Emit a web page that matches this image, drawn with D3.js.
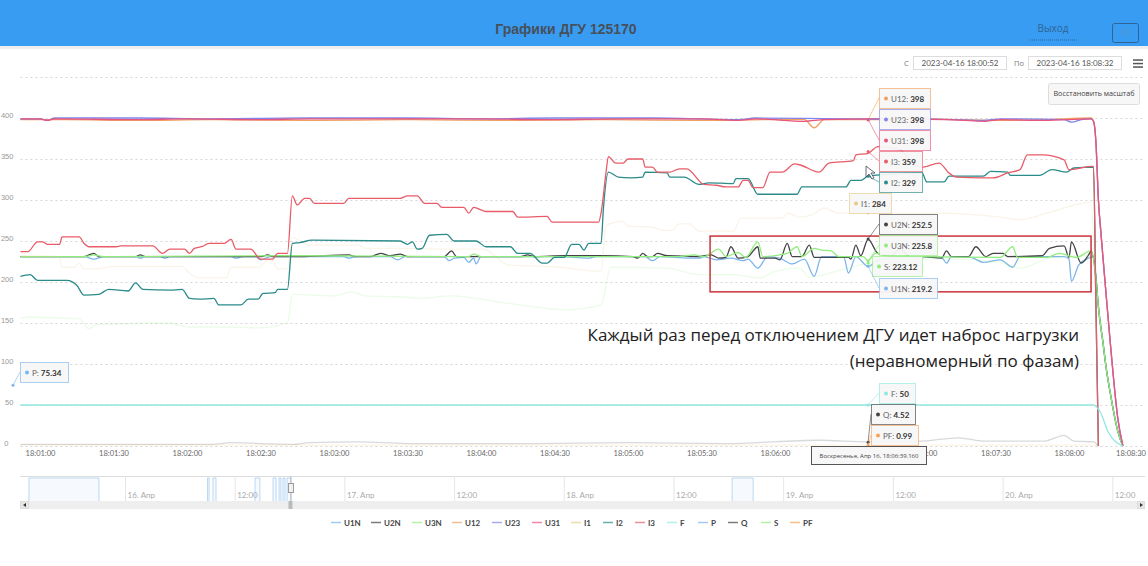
<!DOCTYPE html>
<html>
  <head>
    <meta charset="utf-8">
    <title>Графики ДГУ 125170</title>
    <script src="https://cdn.jsdelivr.net/npm/d3@7"></script>
    <style>
      body { margin: 0; background: #fff; overflow: hidden; }
      svg { display: block; font-family: "Open Sans", sans-serif; }
      .line { fill: none; stroke-width: 1.3; stroke-linejoin: round; }
      .grid .tick line { stroke: #d6d6d6; stroke-dasharray: 2 3; }
      .grid .domain, .xAxis .domain, .xAxis .tick line { display: none; }
      .grid text { fill: #999; font-size: 7.5px; }
      .xAxis text { fill: #666; font-size: 7.5px; font-family: Lato, sans-serif; }
      .tipBox { fill: #f7f7f7; fill-opacity: .95; stroke-width: 1; stroke-opacity: .65; }
      .tipText { font-size: 8px; fill: #666; font-family: Lato, "Open Sans", sans-serif; }
      .tipText tspan { fill: #333; font-weight: 700; }
      .navLabel { font-size: 8px; fill: #aaa; font-family: Lato, "Open Sans", sans-serif; }
      .legendText { font-size: 8px; fill: #444; font-weight: 700; font-family: Lato, sans-serif; }
    </style>
  </head>

  <body>
    <svg id="chart" width="1148" height="566"></svg>

    <script>
      // seconds after 18:00:00 and value
      const xTicks = [60, 90, 120, 150, 180, 210, 240, 270, 300, 330, 360, 390, 420, 450, 480, 510];
      const yTicks = [0, 50, 100, 150, 200, 250, 300, 350, 400, 450];

      const lineFall = [[490, 396], [491, 370], [492, 300], [493, 261], [495, 190], [497, 121], [500, 32], [502, 0]];
      const phaseFall = [[491, 205], [492, 170], [494, 123], [495, 99], [497, 62], [500, 17], [502, 0]];

      const u1n = [[52,231],[78,231],[82,228],[86,231],[99,231],[101,229],[103,231],[109,231],[111,229],[113,231],[138,231],[140,229],[143,231],[148,231],[150,227],[154,231],[184,231],[186,229],[189,231],[203,231],[206,227],[209,231],[225,231],[227,226],[229,229],[233,230],[235,224],[237,229],[238,222],[240,231],[272,231],[284,229],[287,231],[307,231],[310,226],[313,231],[325,229],[329,229],[331,231],[336,227],[342,229],[347,226],[349,228],[353,217],[357,231],[362,229],[367,222],[372,228],[376,207],[379,231],[388,231],[390,211],[393,231],[398,219],[403,228],[420,231],[428,230],[430,223],[432,231],[440,230],[445,224],[452,227],[457,218],[460,231],[478,231],[480,228],[481,201],[484,221],[488,229],[490,231],...phaseFall];
      const u2n = [[52,231],[78,231],[82,235],[84,231],[99,231],[101,233],[103,231],[150,231],[153,233],[155,231],[166,231],[186,233],[189,231],[195,231],[199,235],[203,232],[207,234],[210,231],[225,231],[228,238],[230,231],[256,231],[259,233],[262,231],[274,232],[289,232],[302,231],[304,229],[306,235],[308,231],[310,231],[312,235],[316,232],[329,231],[334,233],[337,229],[340,230],[342,243],[345,229],[349,231],[353,243],[354,229],[360,229],[362,227],[365,247],[367,231],[371,231],[374,245],[376,230],[390,230],[391,228],[393,245],[395,232],[398,252],[402,235],[407,232],[411,240],[415,231],[420,231],[428,229],[430,238],[432,231],[439,231],[442,243],[446,231],[449,235],[453,235],[455,231],[469,232],[472,241],[478,244],[480,230],[481,249],[485,223],[488,233],[489,238],...phaseFall];
      const u3n = [[52,231],[78,231],[82,233],[86,231],[162,232],[235,231],[237,234],[240,231],[321,231],[327,233],[331,231],[337,240],[340,231],[345,236],[348,230],[353,249],[355,231],[365,235],[369,243],[371,231],[376,241],[379,239],[383,238],[386,231],[396,231],[398,226],[401,235],[407,232],[420,231],[452,230],[457,243],[459,230],[471,230],[476,235],[483,230],[489,238],...phaseFall];
      const u12 = [[52,398],[70,398],[100,397],[130,398],[170,397],[210,398],[250,397],[290,398],[330,397],[360,398],[372,398],[376,388],[380,398],[395,398],[420,399],[450,397],[470,398],[489,400],...lineFall];
      const u23 = [[52,399],[60,399],[63,397],[66,400],[100,400],[130,399],[170,400],[210,400],[240,399],[270,400],[310,400],[345,398],[352,400],[390,399],[420,399],[445,397],[452,399],[478,398],[481,395],[485,398],[489,399],...lineFall];
      const u31 = [[52,399],[60,399],[63,397],[66,399],[100,398],[120,399],[150,398],[170,399],[210,399],[240,399],[265,398],[300,399],[330,399],[345,397],[352,399],[372,396],[380,398],[400,399],[430,398],[446,396],[452,398],[470,397],[489,399],...lineFall];
      const i1 = [[52,232],[68,231],[69,218],[74,218],[76,223],[78,216],[83,216],[90,219],[118,219],[121,211],[125,205],[136,205],[138,218],[149,218],[153,226],[155,226],[157,216],[161,216],[163,254],[170,245],[190,245],[193,241],[207,241],[227,240],[241,240],[251,221],[272,218],[289,213],[291,269],[298,274],[300,268],[310,267],[314,263],[318,263],[321,271],[325,271],[329,262],[343,262],[346,278],[363,278],[365,284],[370,279],[375,282],[380,290],[386,284],[427,284],[452,279],[460,276],[472,285],[489,297],[491,150],[492,0]];
      const i2 = [[52,207],[56,209],[59,202],[71,202],[75,196],[78,184],[84,185],[88,191],[96,189],[99,199],[102,191],[113,190],[118,191],[121,180],[125,179],[131,180],[133,172],[142,172],[145,179],[149,179],[151,186],[156,187],[157,191],[161,191],[163,247],[166,248],[171,251],[207,250],[210,246],[212,249],[214,240],[216,241],[219,257],[226,258],[229,250],[238,250],[242,243],[252,243],[255,235],[260,235],[265,223],[267,223],[270,230],[274,230],[277,246],[280,246],[282,239],[284,247],[289,247],[290,291],[292,334],[296,328],[301,327],[306,328],[307,334],[316,333],[317,328],[323,328],[329,319],[333,321],[343,320],[344,326],[349,326],[353,307],[369,307],[371,316],[389,316],[391,324],[395,324],[398,329],[405,331],[420,333],[422,322],[429,322],[431,329],[445,329],[448,335],[455,334],[456,330],[468,330],[473,337],[479,334],[482,339],[490,340],[491,170],[492,0]];
      const i3 = [[52,237],[55,237],[59,249],[61,249],[63,246],[68,246],[69,255],[76,255],[78,247],[80,243],[91,243],[93,244],[106,244],[110,235],[113,240],[119,240],[121,235],[123,241],[126,243],[129,247],[135,247],[138,252],[140,240],[146,240],[150,228],[155,228],[157,235],[161,235],[163,305],[165,294],[168,302],[170,302],[172,296],[184,296],[186,302],[207,302],[210,305],[214,305],[217,296],[222,296],[224,291],[233,291],[235,284],[237,291],[242,286],[253,286],[255,279],[267,280],[269,273],[288,273],[289,284],[291,333],[292,353],[295,345],[298,345],[300,350],[306,350],[307,340],[310,340],[312,334],[317,334],[321,338],[324,338],[331,319],[336,318],[340,316],[345,316],[347,324],[349,324],[351,315],[355,315],[358,334],[363,334],[368,344],[370,343],[378,334],[382,345],[392,348],[393,355],[398,357],[402,365],[411,361],[417,343],[420,340],[427,345],[431,333],[434,328],[445,327],[449,327],[455,333],[460,337],[463,355],[469,355],[478,349],[480,337],[489,341],[490,341],[491,170],[492,0]];
      const f = [[52,50],[200,50],[400,50],[490,50],[493,40],[496,17],[502,0]];
      const q = [[52,2],[100,2],[130,2],[138,4],[150,3],[163,2],[170,4],[190,5],[210,3],[260,3],[300,4],[340,3],[378,7],[398,5],[420,6],[435,10],[445,6],[470,6],[478,13],[482,6],[490,5],[492,0]];
      const s = [[52,156],[56,157],[76,155],[80,143],[83,148],[112,150],[121,145],[139,145],[149,144],[161,150],[163,185],[180,183],[187,188],[193,183],[207,182],[216,180],[227,183],[251,174],[261,170],[274,166],[289,172],[293,218],[316,217],[329,209],[343,209],[354,205],[359,212],[370,217],[374,206],[386,214],[398,223],[411,228],[435,228],[452,224],[460,217],[472,229],[486,232],[489,231],...phaseFall];
      const pf = [[52,1],[200,1],[400,1],[491,1],[492,0]];

      const seriesNames = ["U1N", "U2N", "U3N", "U12", "U23", "U31", "I1", "I2", "I3", "F", "P", "Q", "S", "PF"];
      const seriesValues = [u1n, u2n, u3n, u12, u23, u31, i1, i2, i3, f, [], q, s, pf];
      const seriesColors = ["#7cb5ec", "#434348", "#90ed7d", "#f0a060", "#8085e9", "#e8557f", "#e8c98a", "#2b8a8a", "#e85c68", "#91e8e1", "#7cb5ec", "#434348", "#90ed7d", "#f7a35c"];
      const seriesOpacity = [1, 1, 1, 1, 1, 1, .2, 1, 1, 1, 1, .2, .18, .15];

      // tooltips at the hovered time
      const hoverTime = 398;
      const tipNames = ["U12", "U23", "U31", "I3", "I2", "I1", "U2N", "U3N", "S", "U1N", "F", "Q", "PF"];
      const tipValues = ["398", "398", "398", "359", "329", "284", "252.5", "225.8", "223.12", "219.2", "50", "4.52", "0.99"];
      const tipPoints = [398, 398, 398, 359, 329, 284, 252.5, 225.8, 223.12, 219.2, 50, 4.52, 0.99];

      // navigator: hours after 16 Apr 00:00 when the unit was running
      const navRuns = [[-10.56, -2.9], [8.97, 9.14], [9.57, 9.9], [14.17, 14.7], [16.14, 16.47], [16.8, 17], [17.23, 17.45], [17.67, 18.1], [66.36, 68.66]];
      const navHours = [0, 12, 24, 36, 48, 60, 72, 84, 96, 108];
      const navLabels = ["16. Апр", "12:00", "17. Апр", "12:00", "18. Апр", "12:00", "19. Апр", "12:00", "20. Апр", "12:00"];

      // layout
      const chart = d3.select("#chart");
      const x = d3.scaleLinear().domain([52, 512]).range([20.4, 1147.4]);
      const y = d3.scaleLinear().domain([0, 450]).range([446, 77]);
      const xNav = d3.scaleLinear().domain([0, 12]).range([125.5, 235.2]);
      const yNav = d3.scaleLinear().domain([0, 400]).range([501, 478]);
      const tipBoxes = [
        [879, 88, 51], [879, 109, 51], [879, 130, 51], [879, 151, 43], [879, 172, 43], [849, 193, 42],
        [879, 214, 58], [879, 235, 58], [872, 256, 50], [879, 278, 58], [879, 383, 36], [871, 404, 44], [871, 425, 47]
      ];
      const legendLines = [331, 371, 412, 452, 492, 532, 571, 603, 635, 667, 698, 728, 761, 790];

      // header
      chart.append("rect").attr("y", 46).attr("width", 1148).attr("height", 3).attr("fill", "#eeeeee");
      chart.append("rect").attr("width", 1148).attr("height", 46).attr("fill", "#389cf2");
      chart.append("text").attr("x", 566).attr("y", 34).attr("text-anchor", "middle")
        .attr("font-size", 14).attr("font-weight", 700).attr("fill", "#47505a")
        .attr("font-family", "'Liberation Sans', sans-serif")
        .text("Графики ДГУ 125170");
      chart.append("text").attr("x", 1053).attr("y", 32).attr("text-anchor", "middle")
        .attr("font-size", 10).attr("fill", "#2f6596").text("Выход");
      chart.append("line").attr("x1", 1030).attr("x2", 1077).attr("y1", 40).attr("y2", 40)
        .attr("stroke", "#2f6596").attr("stroke-dasharray", "1 1");
      chart.append("rect").attr("x", 1112.5).attr("y", 23.5).attr("width", 26).attr("height", 19).attr("rx", 2)
        .attr("fill", "none").attr("stroke", "#2f6596");
      [29, 32, 35].forEach(d => {
        chart.append("line").attr("x1", 1120).attr("x2", 1131).attr("y1", d).attr("y2", d)
          .attr("stroke", "#5f93bf").attr("stroke-dasharray", "1 1");
      });

      // date range controls
      const dateLabel = (px, label) => chart.append("text").attr("x", px).attr("y", 66)
        .attr("font-size", 7.5).attr("fill", "#777").text(label);
      const dateBox = (px, label) => {
        chart.append("rect").attr("x", px + .5).attr("y", 56.5).attr("width", 93).attr("height", 13)
          .attr("fill", "#fff").attr("stroke", "#ddd");
        chart.append("text").attr("x", px + 47).attr("y", 66).attr("text-anchor", "middle")
          .attr("font-size", 8).attr("fill", "#555").attr("font-family", "Lato, sans-serif").text(label);
      };
      dateLabel(904, "С");
      dateBox(913, "2023-04-16 18:00:52");
      dateLabel(1014, "По");
      dateBox(1028, "2023-04-16 18:08:32");
      [60, 63.5, 67].forEach(d => {
        chart.append("rect").attr("x", 1133).attr("y", d - .7).attr("width", 10).attr("height", 1.5).attr("fill", "#555");
      });

      // axes
      chart.append("g").attr("class", "grid")
        .attr("transform", "translate(20.4, 0)")
        .call(d3.axisLeft(y).tickValues(yTicks).tickSize(-1125).tickPadding(7)
          .tickFormat(d => d == 450 ? "" : d))
        .selectAll("text").attr("dy", "-0.1em");
      chart.select(".grid").selectAll(".tick").filter(d => d == 0).select("line").attr("stroke-dasharray", null).attr("stroke", "#eee");
      chart.select(".grid").selectAll(".tick").filter(d => d == 0).select("text").attr("x", -12);

      const timeLabel = d => "18:" + d3.format("02")(Math.floor(d / 60)) + ":" + d3.format("02")(d % 60);
      chart.append("g").attr("class", "xAxis")
        .attr("transform", "translate(0, 446)")
        .call(d3.axisBottom(x).tickValues(xTicks).tickFormat(timeLabel).tickSize(0).tickPadding(5));
      chart.select(".xAxis").selectAll(".tick").filter(d => d == 510).select("text").attr("x", -12);

      // series
      const line = d3.line()
        .x(d => x(d[0]))
        .y(d => y(d[1]))
        .curve(d3.curveMonotoneX);

      chart.append("g").selectAll("path")
        .data(seriesValues.filter(d => d.length))
        .enter().append("path")
          .attr("class", "line")
          .attr("d", line)
          .attr("stroke", d => seriesColors[seriesValues.indexOf(d)])
          .attr("stroke-opacity", d => seriesOpacity[seriesValues.indexOf(d)]);

      // outlined area of interest and its note
      chart.append("rect")
        .attr("x", x(333.5)).attr("width", x(489) - x(333.5))
        .attr("y", y(256)).attr("height", y(188) - y(256))
        .attr("fill", "none").attr("stroke", "#c9343c").attr("stroke-width", 1.5);
      const note = chart.append("g").attr("text-anchor", "end").attr("font-size", 17).attr("fill", "#222");
      note.append("text").attr("x", 1079).attr("y", 341).text("Каждый раз перед отключением ДГУ идет наброс нагрузки");
      note.append("text").attr("x", 1079).attr("y", 367).text("(неравномерный по фазам)");

      // reset zoom button
      chart.append("rect").attr("x", 1048.5).attr("y", 83.5).attr("width", 91).attr("height", 21).attr("rx", 2)
        .attr("fill", "#f7f7f7").attr("stroke", "#ddd");
      chart.append("text").attr("x", 1094).attr("y", 96).attr("text-anchor", "middle")
        .attr("font-size", 7.2).attr("fill", "#444").text("Восстановить масштаб");

      // tooltips
      const drawTip = (name, label, point, box) => {
        const color = seriesColors[seriesNames.indexOf(name)];
        const px = point[0], py = point[1];
        const edge = box[0] > px ? box[0] : box[0] + box[2];
        chart.append("line").attr("x1", px).attr("y1", py).attr("x2", edge).attr("y2", box[1] + 10)
          .attr("stroke", color).attr("stroke-opacity", .6);
        chart.append("circle").attr("cx", px).attr("cy", py).attr("r", 1.5).attr("fill", color);
        chart.append("rect").attr("class", "tipBox")
          .attr("x", box[0] + .5).attr("y", box[1] + .5).attr("width", box[2]).attr("height", 20)
          .attr("stroke", color);
        chart.append("circle").attr("cx", box[0] + 7).attr("cy", box[1] + 10.5).attr("r", 2).attr("fill", color);
        const text = chart.append("text").attr("class", "tipText")
          .attr("x", box[0] + 12).attr("y", box[1] + 13.5).text(name + ": ");
        text.append("tspan").text(label);
      };
      tipNames.forEach((d, i) => drawTip(d, tipValues[i], [x(hoverTime), y(tipPoints[i])], tipBoxes[i]));
      drawTip("P", "75.34", [x(49), y(75.34) + 1], [20, 362, 48]);

      // hovered date
      chart.append("rect").attr("x", 811.5).attr("y", 446.5).attr("width", 115).attr("height", 18)
        .attr("fill", "#f7f7f7").attr("stroke", "#555");
      chart.append("text").attr("x", 869).attr("y", 458).attr("text-anchor", "middle")
        .attr("font-size", 6).attr("fill", "#444").text("Воскресенье, Апр 16, 18:06:39.160");

      // mouse pointer
      chart.append("path").attr("d", "M866 166 L866 177 L869 174 L872 179 L874 178 L871 173 L875 173 Z")
        .attr("fill", "#fff").attr("stroke", "#445").attr("stroke-width", .8);

      // navigator
      chart.append("line").attr("x1", 20).attr("x2", 1145).attr("y1", 476.5).attr("y2", 476.5).attr("stroke", "#ddd");
      navHours.forEach((d, i) => {
        chart.append("line").attr("x1", xNav(d)).attr("x2", xNav(d)).attr("y1", 476).attr("y2", 501).attr("stroke", "#e6e6e6");
        chart.append("text").attr("class", "navLabel").attr("x", xNav(d) + 2).attr("y", 498).text(navLabels[i]);
      });
      navRuns.forEach(d => {
        const points = [[d[0], 0], [d[0], 400], [d[1], 400], [d[1], 0]];
        chart.append("path")
          .attr("d", d3.line().x(p => xNav(p[0])).y(p => yNav(p[1]))(points))
          .attr("fill", "#7cb5ec").attr("fill-opacity", .07)
          .attr("stroke", "#7cb5ec").attr("stroke-opacity", .5);
      });
      chart.append("rect").attr("x", 20).attr("y", 501).attr("width", 1125).attr("height", 8).attr("fill", "#eee");
      chart.append("rect").attr("x", 20.5).attr("y", 501.5).attr("width", 8).attr("height", 7).attr("fill", "#e6e6e6").attr("stroke", "#ddd");
      chart.append("rect").attr("x", 1137.5).attr("y", 501.5).attr("width", 7).attr("height", 7).attr("fill", "#e6e6e6").attr("stroke", "#ddd");
      chart.append("path").attr("d", "M26 503 L23 505 L26 507 Z").attr("fill", "#333");
      chart.append("path").attr("d", "M1140 503 L1143 505 L1140 507 Z").attr("fill", "#333");
      chart.append("line").attr("x1", xNav(18.1)).attr("x2", xNav(18.1)).attr("y1", 476).attr("y2", 501).attr("stroke", "#bbb");
      chart.append("rect").attr("x", xNav(18.1) - 2.5).attr("y", 501).attr("width", 4).attr("height", 8).attr("fill", "#bbb");
      chart.append("rect").attr("x", xNav(18.1) - 2.5).attr("y", 483.5).attr("width", 5).attr("height", 9)
        .attr("fill", "#f2f2f2").attr("stroke", "#999");

      // legend
      seriesNames.forEach((d, i) => {
        chart.append("line").attr("x1", legendLines[i]).attr("x2", legendLines[i] + 10).attr("y1", 522.5).attr("y2", 522.5)
          .attr("stroke", seriesColors[i]).attr("stroke-width", 1.5).attr("stroke-opacity", .7);
        chart.append("text").attr("class", "legendText").attr("x", legendLines[i] + 13).attr("y", 525.5).text(d);
      });
    </script>
  </body>
</html>
